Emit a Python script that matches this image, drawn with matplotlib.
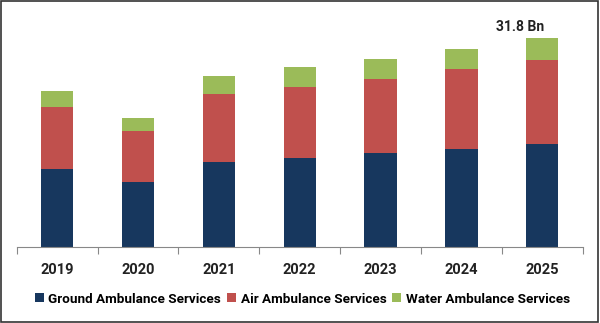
import numpy as np
import matplotlib.pyplot as plt
from matplotlib.patches import Rectangle

# Dados (Bn USD)
anos = ["2019", "2020", "2021", "2022", "2023", "2024", "2025"]
terrestre = [11.9, 9.9, 13.0, 13.6, 14.3, 14.9, 15.7]
aereo = [9.4, 7.8, 10.3, 10.8, 11.3, 12.1, 12.8]
aquatico = [2.5, 2.0, 2.7, 2.9, 3.0, 3.1, 3.3]
series_nomes = ["Ground Ambulance Services", "Air Ambulance Services", "Water Ambulance Services"]
rotulo_final = "31.8 Bn"

cores = ["#17375E", "#C0504D", "#9BBB59"]

plt.rcParams['font.family'] = ['Roboto', 'DejaVu Sans']

fig = plt.figure(figsize=(6.0, 3.23), dpi=100)
ax = fig.add_axes([0.028, 0.234, 0.943, 0.704])

x = np.arange(len(anos))
largura = 0.40
base = np.zeros(len(anos))
for vals, nome, cor in zip([terrestre, aereo, aquatico], series_nomes, cores):
    ax.bar(x, vals, largura, bottom=base, color=cor, label=nome, zorder=2)
    base = base + np.array(vals)

ax.text(x[-1] + 0.02, base[-1] + 0.6, rotulo_final, ha='right', va='bottom',
        fontsize=10, fontweight='bold', color='#222222')

ax.set_xlim(-0.5, len(anos) - 0.5)
ax.set_ylim(0, 34.5)
ax.set_yticks([])
ax.set_xticks(x)
ax.set_xticklabels(anos, fontsize=10.5, fontweight='bold', color='#222222')
ax.set_xticks(np.arange(-0.5, len(anos)), minor=True)
ax.tick_params(axis='x', which='major', length=0, pad=11)
ax.tick_params(axis='x', which='minor', length=5, color='#888888', width=0.8)
for s in ['top', 'right', 'left']:
    ax.spines[s].set_visible(False)
ax.spines['bottom'].set_color('#888888')
ax.spines['bottom'].set_linewidth(0.8)

ax.legend(loc='center', bbox_to_anchor=(0.504, 0.074), bbox_transform=fig.transFigure,
          ncol=3, frameon=False, handlelength=0.65, handleheight=0.65,
          handletextpad=0.35, columnspacing=0.45,
          prop={'weight': 'bold', 'size': 9.7})

# moldura da imagem
fig.patches.append(Rectangle((0.002, 0.003), 0.995, 0.993, transform=fig.transFigure,
                             fill=False, edgecolor='#333333', linewidth=1.2))

fig.savefig('out.png', dpi=100)
